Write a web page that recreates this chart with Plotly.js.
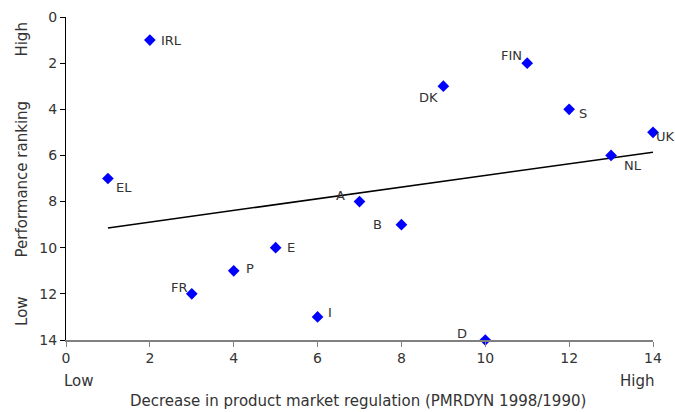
<!DOCTYPE html>
<html><head><meta charset="utf-8">
<script src="https://cdn.plot.ly/plotly-3.0.1.min.js"></script>
<style>html,body{margin:0;padding:0;background:#fff}#chart{width:675px;height:412px}</style>
</head><body><div id="chart"></div>
<script>
const countries = ["IRL","FIN","DK","S","UK","NL","EL","A","B","E","P","FR","I","D"];
const pmrDecrease = [2,11,9,12,14,13,1,7,8,5,4,3,6,10];
const performanceRank = [1,2,3,4,5,6,7,8,9,10,11,12,13,14];
const xTicks = [0,2,4,6,8,10,12,14];
const yTicks = [0,2,4,6,8,10,12,14];

// label offsets (px) — layout only
const labelOffsets = {
  IRL:[22,0], FIN:[-16,8], DK:[-15,-11], S:[14,-4], UK:[12,-4], NL:[22,-10],
  EL:[16,-9], A:[-19,6], B:[-24,0], E:[15,0], P:[16,2], FR:[-12,6], I:[12,4], D:[-23,7]
};

// least-squares trend line from the data
const n = pmrDecrease.length;
const mx = pmrDecrease.reduce((a,b)=>a+b,0)/n;
const my = performanceRank.reduce((a,b)=>a+b,0)/n;
let sxy=0, sxx=0;
for (let i=0;i<n;i++){ sxy += (pmrDecrease[i]-mx)*(performanceRank[i]-my); sxx += (pmrDecrease[i]-mx)**2; }
const slope = sxy/sxx, intercept = my - slope*mx;
const xmin = Math.min(...pmrDecrease), xmax = Math.max(...pmrDecrease);

const font = {family:"DejaVu Sans, sans-serif", size:13, color:"#333"};
const tickFont = {family:"DejaVu Sans, sans-serif", size:14, color:"#333"};
const titleFont = {family:"DejaVu Sans, sans-serif", size:15, color:"#333"};

const traces = [
  {x:[xmin,xmax], y:[intercept+slope*xmin, intercept+slope*xmax], mode:"lines",
   line:{color:"#000", width:1.5}, hoverinfo:"skip", showlegend:false, cliponaxis:false},
  {x:pmrDecrease, y:performanceRank, mode:"markers", type:"scatter", cliponaxis:false,
   marker:{symbol:"diamond", color:"#0000FF", size:9}, showlegend:false}
];

const annotations = countries.map((c,i)=>({
  x:pmrDecrease[i], y:performanceRank[i], xref:"x", yref:"y", text:c, showarrow:false,
  xanchor:"center", yanchor:"middle",
  xshift:labelOffsets[c][0], yshift:labelOffsets[c][1], font:font
}));
annotations.push(
  {xref:"paper", yref:"paper", x:-0.075, y:0.93, xanchor:"center", yanchor:"middle", text:"High", textangle:-90, showarrow:false, font:titleFont},
  {xref:"paper", yref:"paper", x:-0.075, y:0.09, xanchor:"center", yanchor:"middle", text:"Low", textangle:-90, showarrow:false, font:titleFont},
  {xref:"paper", yref:"paper", x:-0.075, y:0.5, xanchor:"center", yanchor:"middle", text:"Performance ranking", textangle:-90, showarrow:false, font:titleFont},
  {xref:"paper", yref:"paper", x:0, y:-0.127, yanchor:"middle", xanchor:"left", text:"Low", showarrow:false, font:titleFont, xshift:-4},
  {xref:"paper", yref:"paper", x:1, y:-0.127, yanchor:"middle", xanchor:"right", text:"High", showarrow:false, font:titleFont, xshift:3},
  {xref:"paper", yref:"paper", x:0.5, y:-0.189, yanchor:"middle", xanchor:"center", text:"Decrease in product market regulation (PMRDYN 1998/1990)", showarrow:false, font:titleFont, xshift:-2}
);

const layout = {
  width:675, height:412,
  margin:{l:66, r:22, t:17, b:72},
  paper_bgcolor:"#fff", plot_bgcolor:"#fff",
  font:font,
  xaxis:{range:[0,14], tickvals:xTicks, ticks:"outside", ticklen:5, tickcolor:"#808080",
    showgrid:false, zeroline:false, showline:true, linecolor:"#808080", linewidth:1.5, tickfont:tickFont},
  yaxis:{range:[14,0], tickvals:yTicks, ticks:"outside", ticklen:5, tickcolor:"#000",
    showgrid:false, zeroline:false, showline:true, linecolor:"#000", linewidth:1, tickfont:tickFont},
  annotations:annotations
};
Plotly.newPlot("chart", traces, layout, {staticPlot:true, displayModeBar:false});
</script></body></html>
